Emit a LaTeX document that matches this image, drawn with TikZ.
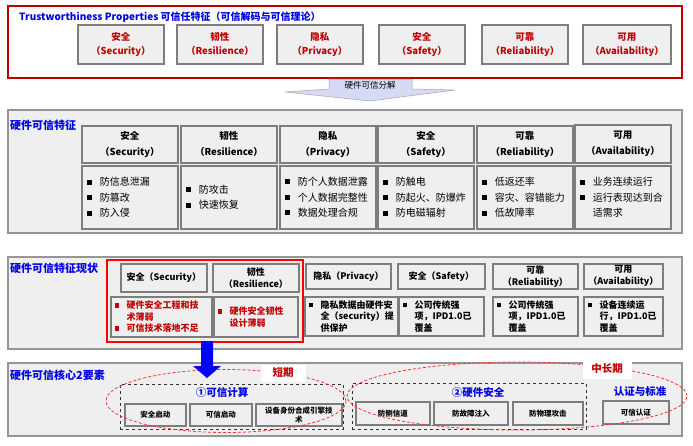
\documentclass[tikz,border=0pt]{standalone}
\usepackage{fontspec}
\setmainfont{Noto Sans CJK SC}
\usetikzlibrary{shapes.geometric}
\definecolor{dred}{RGB}{192,0,0}
\definecolor{bred}{RGB}{255,0,0}
\definecolor{bblue}{RGB}{0,0,230}
\definecolor{bgray}{RGB}{239,239,239}
\definecolor{lgray}{RGB}{125,125,125}
\definecolor{sgray}{RGB}{150,150,150}
\definecolor{lav}{RGB}{214,218,245}
\newcommand\bl{\makebox[1.3em][l]{\rule[0.12em]{0.5em}{0.5em}}}
\newcommand\ct{\hspace*{1.3em}}
\newcommand\fs[2]{\fontsize{#1}{#2}\selectfont}
\begin{document}
\begin{tikzpicture}[x=1pt,y=-1pt,
  redframe/.style={draw=dred, line width=2pt, fill=white, anchor=north west, inner sep=0},
  pbox/.style={draw=lgray, line width=1.8pt, fill=bgray, anchor=north west, inner sep=0, align=center},
  tbox/.style={pbox, text=dred, font=\bfseries\fs{9.5}{14}},
  sec/.style={draw=sgray, line width=1.5pt, fill=bgray, anchor=north west, inner sep=0},
  seclabel/.style={anchor=west, inner sep=0, text=bblue, font=\bfseries\fs{11}{13}},
  hbox/.style={pbox, font=\bfseries\fs{9.5}{16}},
  cbox/.style={pbox, align=left, inner xsep=5pt, font=\fs{10}{15.5}},
  h3box/.style={pbox, font=\bfseries\fs{9}{12}},
  c3box/.style={pbox, align=left, inner xsep=4pt, font=\bfseries\fs{9}{11.5}},
  sbox/.style={pbox, font=\bfseries\fs{7.5}{9}},
  dbox/.style={draw=black!80, dashed, line width=0.8pt, anchor=north west, inner sep=0},
  redell/.style={ellipse, draw=bred!80, dash pattern=on 3pt off 2pt, line width=0.8pt, inner sep=0},
  btitle/.style={inner sep=0, text=bblue, font=\bfseries\fs{10.5}{12}},
  term/.style={fill=white, inner sep=0, text=dred, font=\bfseries\fs{10.5}{12}}
]
\useasboundingbox (0,0) rectangle (693,445);
\fill[white] (0,0) rectangle (693,445);

% ---------- Section 1 ----------
\node[redframe, minimum width=674pt, minimum height=72pt] (top) at (7,5) {};
\node[anchor=west, inner sep=0, text=bblue, font=\bfseries\fs{10}{12}] (title) at (19,17) {Trustworthiness Properties 可信任特征（可信解码与可信理论）};
\node[tbox, minimum width=86pt, minimum height=39pt] (t1) at (77,24) {安全\\（Security）};
\node[tbox, minimum width=86pt, minimum height=39pt] (t2) at (176,24) {韧性\\（Resilience）};
\node[tbox, minimum width=86pt, minimum height=39pt] (t3) at (276,24) {隐私\\（Privacy）};
\node[tbox, minimum width=86pt, minimum height=39pt] (t4) at (378,24) {安全\\（Safety）};
\node[tbox, minimum width=86pt, minimum height=39pt] (t5) at (481,24) {可靠\\（Reliability）};
\node[tbox, minimum width=88pt, minimum height=39pt] (t6) at (582,24) {可用\\（Availability）};

% decomposition arrow
\filldraw[fill=lav, draw=gray!70, line width=0.5pt]
  (329,79) -- (412,79) -- (412,89) -- (455,90) -- (370,101) -- (285,92) -- (329,89) -- cycle;
\node[inner sep=0, font=\fs{8.5}{10}] (dec) at (370,85) {硬件可信分解};

% ---------- Section 2 ----------
\node[sec, minimum width=674pt, minimum height=123pt] (s2) at (7,109) {};
\node[seclabel] (l2) at (10,125) {硬件可信特征};
\node[hbox, minimum width=96pt, minimum height=37pt] (h1) at (81,125) {安全\\（Security）};
\node[hbox, minimum width=96pt, minimum height=37pt] (h2) at (180,125) {韧性\\（Resilience）};
\node[hbox, minimum width=96pt, minimum height=37pt] (h3) at (279,125) {隐私\\（Privacy）};
\node[hbox, minimum width=96pt, minimum height=37pt] (h4) at (377,125) {安全\\（Safety）};
\node[hbox, minimum width=96pt, minimum height=37pt] (h5) at (476,125) {可靠\\（Reliability）};
\node[hbox, minimum width=96pt, minimum height=38pt] (h6) at (574,124) {可用\\（Availability）};
\node[cbox, text width=86pt, minimum height=63pt] (c1) at (81,165) {\bl 防信息泄漏\\\bl 防篡改\\\bl 防入侵};
\node[cbox, text width=86pt, minimum height=63pt] (c2) at (180,165) {\bl 防攻击\\\bl 快速恢复};
\node[cbox, text width=86pt, minimum height=63pt] (c3) at (279,165) {\bl 防个人数据泄露\\\bl 个人数据完整性\\\bl 数据处理合规};
\node[cbox, text width=86pt, minimum height=63pt] (c4) at (377,165) {\bl 防触电\\\bl 防起火、防爆炸\\\bl 防电磁辐射};
\node[cbox, text width=86pt, minimum height=63pt] (c5) at (476,165) {\bl 低返还率\\\bl 容灾、容错能力\\\bl 低故障率};
\node[cbox, text width=86pt, minimum height=63pt] (c6) at (574,165) {\bl 业务连续运行\\\bl 运行表现达到合\\\ct 适需求};

% ---------- Section 3 ----------
\node[sec, minimum width=674pt, minimum height=92pt] (s3) at (7,256) {};
\node[seclabel] (l3) at (10,268) {硬件可信特征现状};
\node[draw=bred, line width=2pt, anchor=north west, inner sep=0, minimum width=196pt, minimum height=82pt] (redbox) at (106,259) {};
\node[h3box, minimum width=86pt, minimum height=28pt] (g1) at (120,263) {安全（Security）};
\node[h3box, minimum width=86pt, minimum height=28pt] (g2) at (212,263) {韧性\\（Resilience）};
\node[h3box, minimum width=85pt, minimum height=25pt] (g3) at (305,263) {隐私（Privacy）};
\node[h3box, minimum width=87pt, minimum height=25pt] (g4) at (397,263) {安全（Safety）};
\node[h3box, minimum width=85pt, minimum height=25pt] (g5) at (492,263) {可靠\\（Reliability）};
\node[h3box, minimum width=79pt, minimum height=25pt] (g6) at (583,263) {可用\\（Availability）};
\node[c3box, text=dred, text width=93pt, minimum height=40pt] (k1) at (110,296) {\bl 硬件安全工程和技\\\ct 术薄弱\\\bl 可信技术落地不足};
\node[c3box, text=dred, text width=76pt, minimum height=40pt] (k2) at (213,296) {\bl 硬件安全韧性\\\ct 设计薄弱};
\node[c3box, text width=85pt, minimum height=39pt] (k3) at (304,296) {\bl 隐私数据由硬件安\\\ct 全（security）提\\\ct 供保护};
\node[c3box, text width=77pt, minimum height=39pt] (k4) at (398,296) {\bl 公司传统强\\\ct 项，IPD1.0已\\\ct 覆盖};
\node[c3box, text width=77pt, minimum height=39pt] (k5) at (492,296) {\bl 公司传统强\\\ct 项，IPD1.0已\\\ct 覆盖};
\node[c3box, text width=71pt, minimum height=39pt] (k6) at (583,296) {\bl 设备连续运\\\ct 行，IPD1.0已\\\ct 覆盖};

% ---------- Section 4 ----------
\node[sec, minimum width=674pt, minimum height=73pt] (s4) at (7,362) {};
\node[seclabel] (l4) at (10,375) {硬件可信核心2要素};
\node[dbox, minimum width=223pt, minimum height=45pt] (d1) at (120,384) {};
\node[dbox, minimum width=234pt, minimum height=46pt] (d2) at (352,383) {};
\node[btitle] (d1t) at (222,392) {①可信计算};
\node[btitle] (d2t) at (478,392) {②硬件安全};
\node[btitle] (cst) at (640,392) {认证与标准};
\node[sbox, minimum width=61pt, minimum height=22pt] (b1) at (124,403) {安全启动};
\node[sbox, minimum width=62pt, minimum height=22pt] (b2) at (189,403) {可信启动};
\node[sbox, minimum width=86pt, minimum height=22pt] (b3) at (255,403) {设备身份合成引擎技\\术};
\node[sbox, minimum width=74pt, minimum height=23pt] (b4) at (355,401) {防侧信道};
\node[sbox, minimum width=74pt, minimum height=23pt] (b5) at (433,401) {防故障注入};
\node[sbox, minimum width=70pt, minimum height=23pt] (b6) at (512,401) {防物理攻击};
\node[sbox, minimum width=66pt, minimum height=23pt] (b7) at (602,400) {可信认证};

% red dashed ellipses
\node[redell, minimum width=240pt, minimum height=63pt] (e1) at (226,401) {};
\node[redell, minimum width=340pt, minimum height=68pt] (e2) at (517,396) {};

% term labels
\node[term, minimum width=45pt, minimum height=17pt] (short) at (283,373) {短期};
\node[term, minimum width=49pt, minimum height=20pt] (long) at (607,369) {中长期};

% blue arrow from status to core elements
\coordinate (ba) at (207,341);
\fill[blue] (201,341) -- (213,341) -- (213,366) -- (221,366) -- (207,378) -- (193,366) -- (201,366) -- cycle;
\end{tikzpicture}
\end{document}
